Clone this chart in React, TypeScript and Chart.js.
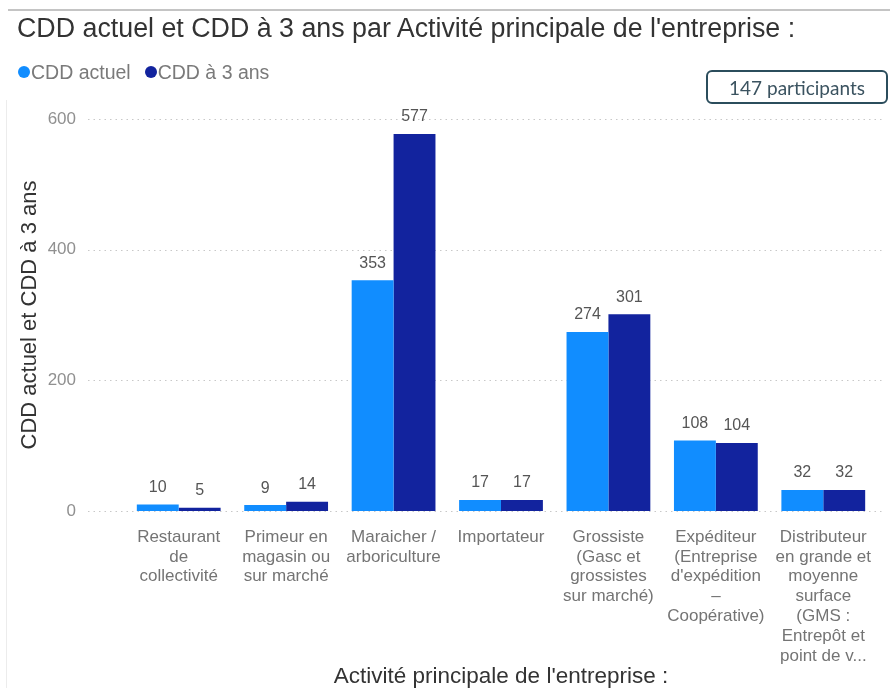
import React, { useEffect, useRef } from "react";
import { Chart, registerables } from "chart.js";

Chart.register(...registerables);

const categories: string[][] = [
  ["Restaurant", "de", "collectivité"],
  ["Primeur en", "magasin ou", "sur marché"],
  ["Maraicher /", "arboriculture"],
  ["Importateur"],
  ["Grossiste", "(Gasc et", "grossistes", "sur marché)"],
  ["Expéditeur", "(Entreprise", "d'expédition", "–", "Coopérative)"],
  ["Distributeur", "en grande et", "moyenne", "surface", "(GMS :", "Entrepôt et", "point de v..."],
];
const cddActuel = [10, 9, 353, 17, 274, 108, 32];
const cdd3Ans = [5, 14, 577, 17, 301, 104, 32];
const yTicks = [0, 200, 400, 600];

const LIGHT = "#118DFF";
const DARK = "#12239E";
const FONT = "'Liberation Sans', Arial, sans-serif";

const gridPlugin = {
  id: "dottedGrid",
  beforeDatasetsDraw(chart: any) {
    const ctx = chart.ctx;
    const y = chart.scales.y;
    ctx.save();
    ctx.strokeStyle = "#c8c8c8";
    ctx.lineWidth = 1;
    ctx.setLineDash([1.5, 4]);
    yTicks.forEach((v) => {
      const py = Math.round(y.getPixelForValue(v)) + 0.5;
      ctx.beginPath();
      ctx.moveTo(88, py);
      ctx.lineTo(882, py);
      ctx.stroke();
    });
    ctx.restore();
  },
};

const labelPlugin = {
  id: "barLabels",
  afterDatasetsDraw(chart: any) {
    const ctx = chart.ctx;
    ctx.save();
    ctx.font = `16px ${FONT}`;
    ctx.fillStyle = "#555";
    ctx.textAlign = "center";
    ctx.textBaseline = "middle";
    chart.data.datasets.forEach((ds: any, i: number) => {
      const meta = chart.getDatasetMeta(i);
      meta.data.forEach((bar: any, j: number) => {
        ctx.fillText(String(ds.data[j]), bar.x, bar.y - 17);
      });
    });
    ctx.restore();
  },
};

export default function App() {
  const ref = useRef<HTMLCanvasElement>(null);
  useEffect(() => {
    if (!ref.current) return;
    const chart = new Chart(ref.current, {
      type: "bar",
      data: {
        labels: categories,
        datasets: [
          { label: "CDD actuel", data: cddActuel, backgroundColor: LIGHT, categoryPercentage: 0.78, barPercentage: 1 },
          { label: "CDD à 3 ans", data: cdd3Ans, backgroundColor: DARK, categoryPercentage: 0.78, barPercentage: 1 },
        ],
      },
      options: {
        animation: false,
        responsive: false,
        layout: { padding: { left: 17, right: 13, top: 119, bottom: 0 } },
        plugins: { legend: { display: false }, tooltip: { enabled: false }, title: { display: false } },
        scales: {
          x: {
            grid: { display: false, drawTicks: false },
            border: { display: false },
            ticks: {
              color: "#747474",
              font: { family: FONT, size: 17, lineHeight: 1.17 },
              padding: 16,
              maxRotation: 0,
              autoSkip: false,
            },
            title: {
              display: true,
              text: "Activité principale de l'entreprise :",
              color: "#333",
              font: { family: FONT, size: 22.5, lineHeight: 1 },
              padding: { top: 0, bottom: 0 },
            },
            afterFit(scale: any) {
              scale.height = 177;
            },
          },
          y: {
            min: 0,
            max: 600,
            grid: { display: false, drawTicks: false },
            border: { display: false },
            afterBuildTicks(scale: any) {
              scale.ticks = yTicks.map((v) => ({ value: v }));
            },
            ticks: {
              color: "#909090",
              font: { family: FONT, size: 17 },
              padding: 49,
            },
            title: {
              display: true,
              text: "CDD actuel et CDD à 3 ans",
              color: "#333",
              font: { family: FONT, size: 22, lineHeight: 1.2 },
              padding: { top: 0, bottom: 0 },
            },
            afterFit(scale: any) {
              scale.width = 108;
            },
          },
        },
      },
      plugins: [gridPlugin, labelPlugin],
    });
    return () => chart.destroy();
  }, []);

  return (
    <div style={{ position: "fixed", left: 0, top: 0, width: 890, height: 688, background: "#fff", overflow: "hidden" }}>
      <div style={{ position: "absolute", left: 8, top: 9, right: 0, borderTop: "2px solid #c4c4c4" }} />
      <div style={{ position: "absolute", left: 6, top: 100, height: 588, borderLeft: "1px solid #ececec" }} />
      <canvas ref={ref} width={890} height={688} style={{ position: "absolute", left: 0, top: 0 }} />
      <div
        style={{
          position: "absolute",
          left: 17,
          top: 12,
          fontFamily: FONT,
          fontSize: 26.8,
          color: "#333",
          whiteSpace: "nowrap",
          lineHeight: "32px",
        }}
      >
        CDD actuel et CDD à 3 ans par Activité principale de l'entreprise :
      </div>
      <div
        style={{
          position: "absolute",
          left: 18,
          top: 61,
          fontFamily: FONT,
          fontSize: 19.5,
          color: "#7a7a7a",
          whiteSpace: "nowrap",
          lineHeight: "22px",
          display: "flex",
          alignItems: "center",
        }}
      >
        <span style={{ display: "inline-block", width: 12, height: 12, borderRadius: "50%", background: LIGHT, marginRight: 1 }} />
        <span>CDD actuel</span>
        <span style={{ display: "inline-block", width: 12, height: 12, borderRadius: "50%", background: DARK, marginLeft: 14, marginRight: 1 }} />
        <span>CDD à 3 ans</span>
      </div>
      <div
        style={{
          position: "absolute",
          left: 706,
          top: 70,
          width: 182,
          height: 34,
          boxSizing: "border-box",
          border: "2px solid #2b4d5c",
          borderRadius: 6,
          display: "flex",
          alignItems: "center",
          justifyContent: "center",
          fontFamily: "Lato, 'Open Sans', sans-serif",
          fontSize: 19,
          color: "#3b5360",
        }}
      >
        147 participants
      </div>
    </div>
  );
}
